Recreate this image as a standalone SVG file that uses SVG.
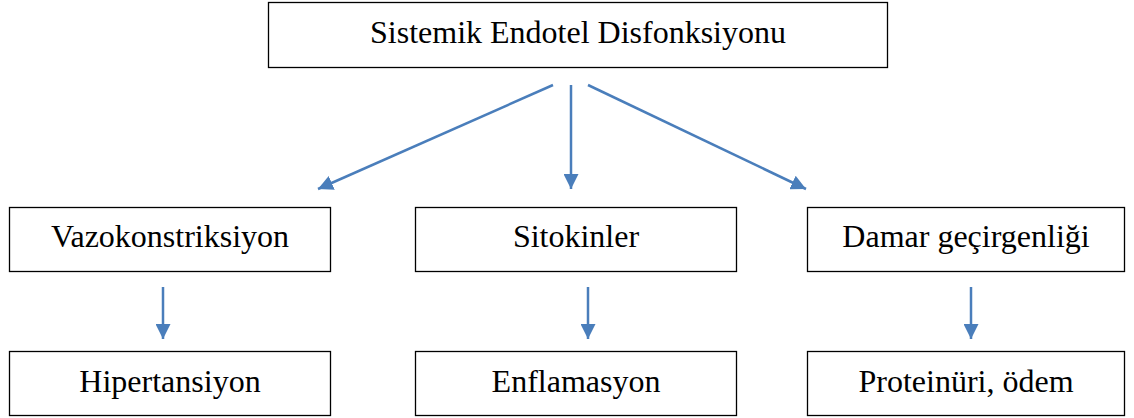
<svg xmlns="http://www.w3.org/2000/svg" width="1134" height="418" viewBox="0 0 1134 418">
<style>
.box{fill:#fff;stroke:#000;stroke-width:1.3}
.lbl{font-family:"Liberation Serif","Times New Roman",serif;font-size:32px;fill:#000;text-anchor:middle}
.arr{stroke:#4A7EBB;stroke-width:2.5;fill:none;marker-end:url(#ah)}
</style>
<defs>
<marker id="ah" viewBox="0 0 10 10" refX="10" refY="5" markerWidth="6" markerHeight="6" markerUnits="strokeWidth" orient="auto">
<path d="M0,0 L10,5 L0,10 Z" fill="#4A7EBB"/>
</marker>
</defs>
<rect width="1134" height="418" fill="#fff"/>
<g id="n0"><rect class="box" x="268.5" y="2.5" width="619" height="65"/><text class="lbl" x="578" y="43">Sistemik Endotel Disfonksiyonu</text></g>
<g id="n1"><rect class="box" x="9.5" y="207.5" width="321" height="64"/><text class="lbl" x="170" y="247">Vazokonstriksiyon</text></g>
<g id="n2"><rect class="box" x="415.5" y="207.5" width="321" height="64"/><text class="lbl" x="576" y="247">Sitokinler</text></g>
<g id="n3"><rect class="box" x="807.5" y="207.5" width="317" height="64"/><text class="lbl" x="966" y="247">Damar geçirgenliği</text></g>
<g id="n4"><rect class="box" x="9.5" y="351.5" width="321" height="64"/><text class="lbl" x="170" y="392">Hipertansiyon</text></g>
<g id="n5"><rect class="box" x="415.5" y="351.5" width="321" height="64"/><text class="lbl" x="576" y="392">Enflamasyon</text></g>
<g id="n6"><rect class="box" x="807.5" y="351.5" width="317" height="64"/><text class="lbl" x="966" y="392">Proteinüri, ödem</text></g>
<g id="edges">
<line class="arr" x1="553" y1="85" x2="318" y2="189"/>
<line class="arr" x1="571" y1="85" x2="571" y2="189"/>
<line class="arr" x1="588" y1="85" x2="806" y2="189"/>
<line class="arr" x1="163" y1="287" x2="163" y2="339"/>
<line class="arr" x1="588" y1="287" x2="588" y2="339"/>
<line class="arr" x1="971" y1="287" x2="971" y2="339"/>
</g>
</svg>
